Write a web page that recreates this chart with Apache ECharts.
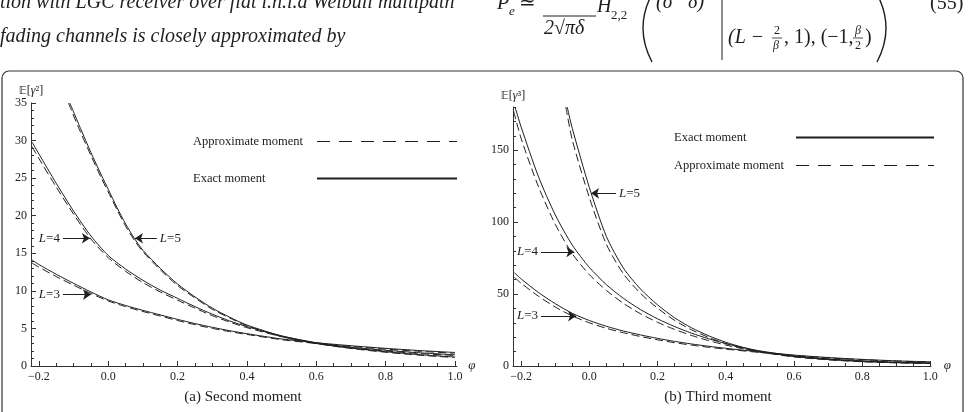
<!DOCTYPE html>
<html>
<head>
<meta charset="utf-8">
<script src="https://cdn.jsdelivr.net/npm/echarts@6/dist/echarts.min.js"></script>
<style>
html,body{margin:0;padding:0;background:#fff}
#main{width:968px;height:412px}
</style>
</head>
<body>
<div id="main"></div>
<script>
// phi grid shared by most curves
var phi = [-0.22,-0.2,-0.15,-0.1,-0.05,0,0.05,0.1,0.15,0.2,0.25,0.3,0.35,0.4,0.5,0.6,0.7,0.8,0.9,1.0];

// (a) second moment
var secL3Exact  = [14.1,13.5,12.2,11.0,9.85,8.8,8.05,7.4,6.8,6.2,5.65,5.15,4.7,4.3,3.6,3.1,2.7,2.35,2.05,1.8];
var secL3Approx = [13.7,13.15,11.9,10.75,9.65,8.65,7.9,7.25,6.65,6.05,5.5,5.0,4.58,4.2,3.5,3.0,2.6,2.25,1.95,1.7];
var secL4Exact  = [29.8,28.2,24.3,20.6,17.3,14.7,12.9,11.4,10.1,9.0,7.9,6.9,6.0,5.25,4.0,3.1,2.5,2.1,1.75,1.5];
var secL4Approx = [29.2,27.6,23.8,20.2,16.9,14.4,12.6,11.1,9.85,8.75,7.7,6.7,5.85,5.1,3.9,3.0,2.4,2.0,1.65,1.4];
var phiSecL5Exact  = [-0.111,-0.08,-0.05,-0.02,0,0.025,0.05,0.075,0.1,0.15,0.2,0.25,0.3,0.35,0.4,0.5,0.6,0.7,0.8,0.9,1.0];
var secL5Exact     = [35,31.6,28.4,25.4,23.5,21.1,18.9,17.0,15.4,13.0,10.9,9.2,7.7,6.5,5.45,4.0,3.05,2.4,1.9,1.5,1.2];
var phiSecL5Approx = [-0.115,-0.08,-0.05,-0.02,0,0.025,0.05,0.075,0.1,0.15,0.2,0.25,0.3,0.35,0.4,0.5,0.6,0.7,0.8,0.9,1.0];
var secL5Approx    = [35,31.1,28.0,25.0,23.15,20.8,18.6,16.75,15.2,12.8,10.7,9.05,7.55,6.4,5.35,3.9,2.98,2.33,1.83,1.43,1.13];

// (b) third moment
var thrL3Exact  = [64.8,60.5,51.2,43.3,36.6,31.6,27.6,24.3,21.6,19.2,17.1,15.3,13.7,12.3,9.8,7.6,5.9,4.6,3.6,2.9];
var thrL3Approx = [61.6,57.5,48.6,41.0,34.8,30.0,26.2,23.1,20.5,18.2,16.2,14.5,13.0,11.7,9.4,7.3,5.6,4.35,3.4,2.7];
var phiThrL4Exact  = [-0.218,-0.2,-0.15,-0.1,-0.05,0,0.05,0.1,0.15,0.2,0.25,0.3,0.35,0.4,0.45,0.5,0.6,0.7,0.8,0.9,1.0];
var thrL4Exact     = [180,166,132,105,84,68.5,56.5,47,39.2,32.8,27.4,22.8,18.9,15.6,12.8,10.5,7.1,5.0,3.6,2.7,2.2];
var phiThrL4Approx = [-0.222,-0.2,-0.15,-0.1,-0.05,0,0.05,0.1,0.15,0.2,0.25,0.3,0.35,0.4,0.45,0.5,0.6,0.7,0.8,0.9,1.0];
var thrL4Approx    = [177,158,125,98.5,78,63.5,52.5,43.5,36.3,30.4,25.4,21.2,17.6,14.6,12.0,9.9,6.7,4.7,3.4,2.5,2.0];
var phiThrL5Exact  = [-0.065,-0.05,0,0.05,0.1,0.15,0.2,0.25,0.3,0.35,0.4,0.45,0.5,0.6,0.7,0.8,0.9,1.0];
var thrL5Exact     = [180,165,124,90,68,53.5,42.5,33.5,26.5,21,16.5,13,10.2,6.6,4.5,3.1,2.3,1.8];
var phiThrL5Approx = [-0.069,-0.05,0,0.05,0.1,0.15,0.2,0.25,0.3,0.35,0.4,0.45,0.5,0.6,0.7,0.8,0.9,1.0];
var thrL5Approx    = [180,157,117,84.5,64,50.5,40.2,31.7,25.1,19.9,15.6,12.3,9.7,6.3,4.3,2.95,2.2,1.7];

// ticks
var xTicks = [-0.2,0,0.2,0.4,0.6,0.8,1.0];
var secYTicks = [0,5,10,15,20,25,30,35];
var thrYTicks = [0,50,100,150];

// arrow annotations: [label, fromPhi, toPhi, value]
var secArrows = [['4',-0.131,-0.053,17],['5',0.14,0.077,17],['3',-0.131,-0.05,9.5]];
var thrArrows = [['5',0.078,0.005,120],['4',-0.142,-0.044,79.3],['3',-0.142,-0.039,34.7]];

var SERIF = '"Liberation Serif","DejaVu Serif",serif';
var INK = '#1e1e1e';

function steps(a, b, d) {
    var out = [];
    for (var k = Math.round(a / d); k <= Math.round(b / d); k++) out.push(Math.round(k * d * 1000) / 1000);
    return out;
}
function pairs(xs, ys) {
    return xs.map(function (x, i) { return [x, ys[i]]; });
}
function fmtX(v) {
    return (v < 0 ? '\u2212' + (-v).toFixed(1) : v.toFixed(1));
}

function xAxes(grid, min, max) {
    return [{
        type: 'value', gridIndex: grid, min: min, max: max, position: 'bottom',
        axisLine: {onZero: false, lineStyle: {color: '#333', width: 1}},
        axisTick: {inside: true, length: 5, customValues: xTicks, lineStyle: {color: '#333'}},
        axisLabel: {customValues: xTicks, formatter: fmtX, color: '#222', fontFamily: SERIF, fontSize: 12, margin: 5},
        splitLine: {show: false},
        name: '\u03c6', nameLocation: 'end', nameGap: 8,
        nameTextStyle: {fontFamily: SERIF, fontStyle: 'italic', fontSize: 13, color: '#222'}
    }, {
        type: 'value', gridIndex: grid, min: min, max: max, position: 'bottom',
        axisLine: {show: false, onZero: false},
        axisTick: {inside: true, length: 3, customValues: steps(-0.2, 1.0, 0.05), lineStyle: {color: '#333'}},
        axisLabel: {show: false}, splitLine: {show: false}
    }];
}
function yAxes(grid, max, ticks, minorStep, name) {
    return [{
        type: 'value', gridIndex: grid, min: 0, max: max, position: 'left',
        axisLine: {onZero: false, lineStyle: {color: '#333', width: 1}},
        axisTick: {inside: true, length: 5, customValues: ticks, lineStyle: {color: '#333'}},
        axisLabel: {customValues: ticks, color: '#222', fontFamily: SERIF, fontSize: 12, margin: 4},
        splitLine: {show: false},
        name: name, nameLocation: 'end', nameGap: 5,
        nameTextStyle: {fontFamily: SERIF, fontSize: 12, color: '#222', align: 'center',
            rich: {i: {fontFamily: SERIF, fontStyle: 'italic', fontSize: 12, color: '#222'},
                   b: {fontFamily: '"DejaVu Sans",sans-serif', fontSize: 11, color: '#222'}}}
    }, {
        type: 'value', gridIndex: grid, min: 0, max: max, position: 'left',
        axisLine: {show: false, onZero: false},
        axisTick: {inside: true, length: 3, customValues: steps(0, max, minorStep), lineStyle: {color: '#333'}},
        axisLabel: {show: false}, splitLine: {show: false}
    }];
}

function arrowMarks(list) {
    return {
        silent: true, symbol: ['none', 'arrow'], symbolSize: 8, animation: false,
        lineStyle: {type: 'solid', color: INK, width: 1},
        label: {show: true, position: 'start', distance: 3, color: INK, fontFamily: SERIF, fontSize: 13,
            formatter: function (p) { return '{i|L}=' + p.name; },
            rich: {i: {fontStyle: 'italic', fontFamily: SERIF, fontSize: 13, color: INK}}},
        emphasis: {disabled: true},
        data: list.map(function (a) {
            return [{name: a[0], coord: [a[1], a[3]]}, {coord: [a[2], a[3]]}];
        })
    };
}

function curve(name, xi, yi, xs, ys, dashed, marks) {
    var s = {
        name: name, type: 'line', xAxisIndex: xi, yAxisIndex: yi,
        data: pairs(xs, ys), showSymbol: false, symbol: 'none',
        smooth: 0.25, clip: true, silent: true,
        lineStyle: {color: INK, width: 1, type: dashed ? [8, 4] : 'solid'},
        itemStyle: {color: INK}
    };
    if (marks) s.markLine = marks;
    return s;
}

function legendText(w) {
    return {
        formatter: '{t|{name}}',
        textStyle: {fontFamily: SERIF, fontSize: 12.5, color: '#222',
            rich: {t: {width: w, align: 'left', fontFamily: SERIF, fontSize: 12.5, color: '#222'}}}
    };
}

var myChart = echarts.init(document.getElementById('main'), null, {renderer: 'canvas'});

var legA = {
    left: 193, top: 135, padding: 0, orient: 'vertical', align: 'right', selectedMode: false,
    itemWidth: 140, itemHeight: 14, itemGap: 24,
    itemStyle: {color: 'transparent', borderWidth: 0, opacity: 0},
    data: [{name: 'Approximate moment', lineStyle: {type: [13, 9], width: 1}},
           {name: 'Exact moment'}]
};
var legB = {
    left: 674, top: 131, padding: 0, orient: 'vertical', align: 'right', selectedMode: false,
    itemWidth: 138, itemHeight: 14, itemGap: 15,
    itemStyle: {color: 'transparent', borderWidth: 0, opacity: 0},
    data: [{name: 'Exact moment'},
           {name: 'Approximate moment', lineStyle: {type: [13, 9], width: 1}}]
};
Object.assign(legA, legendText(119));
Object.assign(legB, legendText(117));

var option = {
    backgroundColor: '#fff',
    animation: false,
    grid: [
        {left: 31, top: 103, width: 426, height: 263},
        {left: 513, top: 107, width: 418, height: 259}
    ],
    xAxis: xAxes(0, -0.223, 1.006).concat(xAxes(1, -0.224, 1.002)),
    yAxis: yAxes(0, 35, secYTicks, 1, '{b|\ud835\udd3c}[{i|\u03b3}\u00b2]')
        .concat(yAxes(1, 180, thrYTicks, 10, '{b|\ud835\udd3c}[{i|\u03b3}\u00b3]')),
    legend: [legA, legB],
    series: [
        curve('Exact moment', 0, 0, phi, secL3Exact, false, arrowMarks(secArrows)),
        curve('Approximate moment', 0, 0, phi, secL3Approx, true),
        curve('Exact moment', 0, 0, phi, secL4Exact, false),
        curve('Approximate moment', 0, 0, phi, secL4Approx, true),
        curve('Exact moment', 0, 0, phiSecL5Exact, secL5Exact, false),
        curve('Approximate moment', 0, 0, phiSecL5Approx, secL5Approx, true),
        curve('Exact moment', 2, 2, phi, thrL3Exact, false, arrowMarks(thrArrows)),
        curve('Approximate moment', 2, 2, phi, thrL3Approx, true),
        curve('Exact moment', 2, 2, phiThrL4Exact, thrL4Exact, false),
        curve('Approximate moment', 2, 2, phiThrL4Approx, thrL4Approx, true),
        curve('Exact moment', 2, 2, phiThrL5Exact, thrL5Exact, false),
        curve('Approximate moment', 2, 2, phiThrL5Approx, thrL5Approx, true)
    ],
    graphic: [
        // figure frame
        {type: 'rect', silent: true, shape: {x: 2, y: 71, width: 961, height: 380, r: 7},
            style: {fill: 'none', stroke: '#333', lineWidth: 1.2}},
        // captions
        {type: 'text', silent: true, x: 243, y: 397,
            style: {text: '(a) Second moment', font: '15px ' + SERIF, fill: '#222', align: 'center', verticalAlign: 'middle'}},
        {type: 'text', silent: true, x: 718, y: 397,
            style: {text: '(b) Third moment', font: '15px ' + SERIF, fill: '#222', align: 'center', verticalAlign: 'middle'}},
        // page text above the figure
        {type: 'text', silent: true, x: 0, y: 3,
            style: {text: 'tion with LGC receiver over flat i.n.i.d Weibull multipath', font: 'italic 20px ' + SERIF, fill: INK, verticalAlign: 'middle'}},
        {type: 'text', silent: true, x: 0, y: 37,
            style: {text: 'fading channels is closely approximated by', font: 'italic 20px ' + SERIF, fill: INK, verticalAlign: 'middle'}},
        {type: 'text', silent: true, x: 497, y: 4,
            style: {text: 'P', font: 'italic 20px ' + SERIF, fill: INK, verticalAlign: 'middle'}},
        {type: 'text', silent: true, x: 509, y: 12,
            style: {text: 'e', font: 'italic 13px ' + SERIF, fill: INK, verticalAlign: 'middle'}},
        {type: 'text', silent: true, x: 519, y: 4,
            style: {text: '\u2243', font: '20px ' + SERIF, fill: INK, verticalAlign: 'middle'}},
        {type: 'line', silent: true, shape: {x1: 543, y1: 16, x2: 596, y2: 16}, style: {stroke: INK, lineWidth: 1}},
        {type: 'text', silent: true, x: 544, y: 29,
            style: {text: '2\u221a\u03c0\u03b4', font: 'italic 20px ' + SERIF, fill: INK, verticalAlign: 'middle'}},
        {type: 'text', silent: true, x: 597, y: 7,
            style: {text: 'H', font: 'italic 20px ' + SERIF, fill: INK, verticalAlign: 'middle'}},
        {type: 'text', silent: true, x: 611, y: 16,
            style: {text: '2,2', font: '13px ' + SERIF, fill: INK, verticalAlign: 'middle'}},
        {type: 'bezierCurve', silent: true, shape: {x1: 652, y1: -6, x2: 652, y2: 62, cpx1: 634, cpy1: 28},
            style: {stroke: INK, lineWidth: 1.4, fill: 'none'}},
        {type: 'text', silent: true, x: 656, y: 3,
            style: {text: '(\u03c3\u207b \u03b4)', font: 'italic 20px ' + SERIF, fill: INK, verticalAlign: 'middle'}},
        {type: 'line', silent: true, shape: {x1: 722, y1: 0, x2: 722, y2: 60}, style: {stroke: INK, lineWidth: 1}},
        {type: 'text', silent: true, x: 728, y: 38,
            style: {text: '(L \u2212', font: 'italic 20px ' + SERIF, fill: INK, verticalAlign: 'middle'}},
        {type: 'text', silent: true, x: 774, y: 31,
            style: {text: '2', font: '12px ' + SERIF, fill: INK, verticalAlign: 'middle'}},
        {type: 'line', silent: true, shape: {x1: 772, y1: 38, x2: 782, y2: 38}, style: {stroke: INK, lineWidth: 0.8}},
        {type: 'text', silent: true, x: 773, y: 46,
            style: {text: '\u03b2', font: 'italic 12px ' + SERIF, fill: INK, verticalAlign: 'middle'}},
        {type: 'text', silent: true, x: 784, y: 38,
            style: {text: ', 1), (\u22121,', font: '20px ' + SERIF, fill: INK, verticalAlign: 'middle'}},
        {type: 'text', silent: true, x: 855, y: 31,
            style: {text: '\u03b2', font: 'italic 12px ' + SERIF, fill: INK, verticalAlign: 'middle'}},
        {type: 'line', silent: true, shape: {x1: 853, y1: 38, x2: 863, y2: 38}, style: {stroke: INK, lineWidth: 0.8}},
        {type: 'text', silent: true, x: 855, y: 46,
            style: {text: '2', font: '12px ' + SERIF, fill: INK, verticalAlign: 'middle'}},
        {type: 'text', silent: true, x: 865, y: 38,
            style: {text: ')', font: '20px ' + SERIF, fill: INK, verticalAlign: 'middle'}},
        {type: 'bezierCurve', silent: true, shape: {x1: 877, y1: -6, x2: 877, y2: 62, cpx1: 895, cpy1: 28},
            style: {stroke: INK, lineWidth: 1.4, fill: 'none'}},
        {type: 'text', silent: true, x: 930, y: 4,
            style: {text: '(55)', font: '20px ' + SERIF, fill: INK, verticalAlign: 'middle'}}
    ]
};

myChart.setOption(option);
</script>
</body>
</html>
